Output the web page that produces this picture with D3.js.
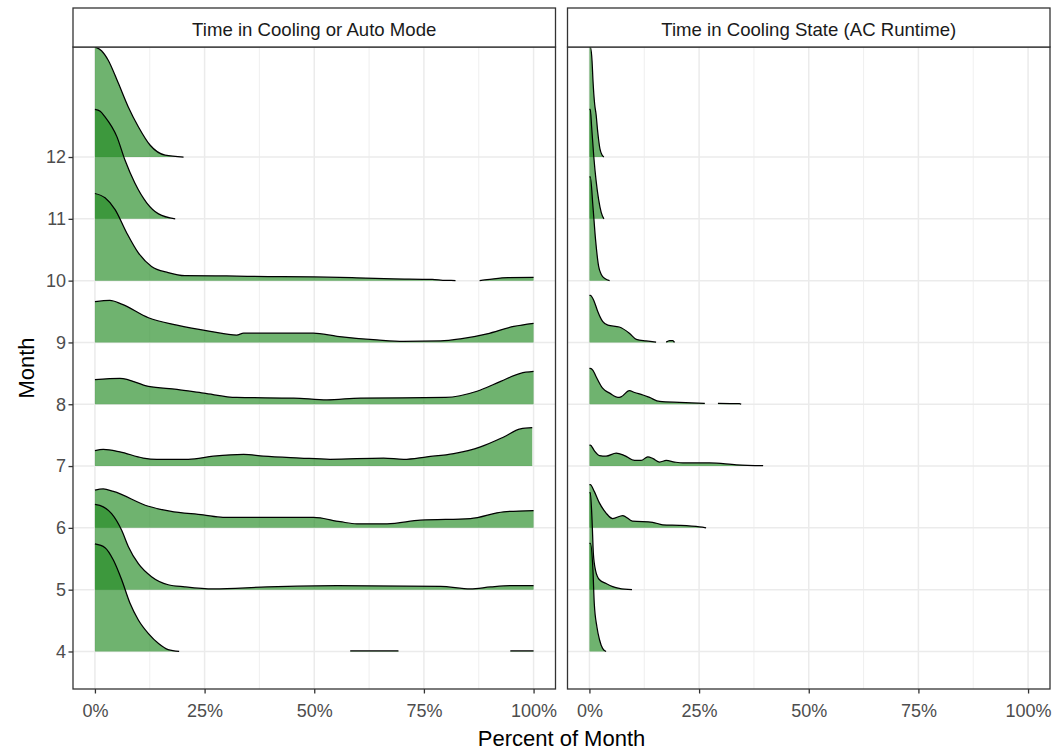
<!DOCTYPE html>
<html><head><meta charset="utf-8">
<script src="https://cdn.jsdelivr.net/npm/d3@7"></script>
<style>body{margin:0;background:#fff;} svg{display:block;font-family:"Liberation Sans",Arial,sans-serif;}</style>
</head><body><svg id="c" width="1055" height="751"></svg>
<script>
// ---------- data ----------
const months = [4, 5, 6, 7, 8, 9, 10, 11, 12];
const facetTitles = ["Time in Cooling or Auto Mode", "Time in Cooling State (AC Runtime)"];
const xTickValues = [0, 0.25, 0.5, 0.75, 1];
const xTickLabels = ["0%", "25%", "50%", "75%", "100%"];
const xMinorValues = [0.125, 0.375, 0.625, 0.875];
const xAxisTitle = "Percent of Month";
const yAxisTitle = "Month";

// [share of month, ridge height in month rows]; null height = gap
const modeCurves = [
  // 4
  [[0,1.74],[0.023,1.68],[0.042,1.48],[0.061,1.16],[0.080,0.78],[0.099,0.51],[0.122,0.29],[0.145,0.13],[0.167,0.03],[0.192,0],[0.3,null],[0.582,0.008],[0.692,0.008],[0.8,null],[0.947,0.008],[1.0,0.008]],
  // 5
  [[0,1.38],[0.019,1.34],[0.038,1.23],[0.061,0.96],[0.076,0.70],[0.099,0.42],[0.129,0.21],[0.167,0.08],[0.205,0.045],[0.270,0.011],[0.392,0.044],[0.552,0.065],[0.788,0.053],[0.856,0.011],[0.902,0.044],[0.947,0.065],[1.0,0.065]],
  // 6
  [[0,0.61],[0.019,0.63],[0.042,0.59],[0.122,0.35],[0.171,0.27],[0.247,0.21],[0.292,0.17],[0.498,0.17],[0.559,0.10],[0.597,0.065],[0.666,0.065],[0.742,0.125],[0.856,0.15],[0.932,0.26],[1.0,0.28]],
  // 7
  [[0,0.25],[0.019,0.27],[0.057,0.23],[0.110,0.13],[0.141,0.11],[0.213,0.11],[0.270,0.16],[0.339,0.19],[0.384,0.16],[0.468,0.13],[0.536,0.11],[0.658,0.13],[0.704,0.11],[0.757,0.15],[0.818,0.20],[0.879,0.31],[0.932,0.47],[0.970,0.60],[0.997,0.62]],
  // 8
  [[0,0.40],[0.057,0.42],[0.122,0.29],[0.187,0.24],[0.248,0.18],[0.323,0.11],[0.453,0.10],[0.529,0.07],[0.605,0.10],[0.80,0.11],[0.871,0.21],[0.925,0.37],[0.970,0.50],[1.0,0.53]],
  // 9
  [[0,0.66],[0.034,0.68],[0.061,0.62],[0.122,0.40],[0.187,0.28],[0.263,0.18],[0.323,0.12],[0.339,0.15],[0.40,0.15],[0.498,0.15],[0.552,0.10],[0.643,0.04],[0.704,0.016],[0.788,0.024],[0.833,0.057],[0.894,0.14],[0.955,0.26],[1.0,0.31]],
  // 10
  [[0,1.41],[0.023,1.34],[0.046,1.15],[0.072,0.78],[0.099,0.45],[0.129,0.23],[0.167,0.13],[0.205,0.08],[0.30,0.075],[0.395,0.065],[0.50,0.06],[0.597,0.045],[0.68,0.03],[0.769,0.02],[0.80,0.003],[0.822,0.002],[0.85,null],[0.877,0.002],[0.894,0.015],[0.942,0.05],[1.0,0.053]],
  // 11
  [[0,1.77],[0.012,1.74],[0.023,1.65],[0.050,1.33],[0.068,0.96],[0.091,0.58],[0.118,0.26],[0.145,0.08],[0.183,0]],
  // 12
  [[0,1.78],[0.015,1.72],[0.030,1.57],[0.053,1.20],[0.076,0.81],[0.099,0.49],[0.126,0.19],[0.160,0.03],[0.202,0]]
];

const runtimeCurves = [
  // 4
  [[0,1.75],[0.002,1.75],[0.008,1.32],[0.011,0.78],[0.017,0.40],[0.023,0.19],[0.030,0.05],[0.038,0]],
  // 5
  [[0,1.57],[0.002,1.57],[0.006,1.12],[0.009,0.58],[0.014,0.31],[0.023,0.16],[0.038,0.10],[0.053,0.05],[0.068,0.02],[0.097,0]],
  // 6
  [[0,0.70],[0.002,0.70],[0.011,0.59],[0.023,0.40],[0.038,0.24],[0.053,0.15],[0.076,0.20],[0.098,0.11],[0.144,0.09],[0.167,0.05],[0.205,0.04],[0.251,0.015],[0.266,0]],
  // 7
  [[0,0.34],[0.002,0.34],[0.011,0.25],[0.023,0.17],[0.038,0.16],[0.061,0.21],[0.080,0.17],[0.103,0.09],[0.118,0.09],[0.133,0.15],[0.145,0.12],[0.160,0.065],[0.175,0.09],[0.194,0.065],[0.213,0.05],[0.274,0.05],[0.335,0.02],[0.396,0.005]],
  // 8
  [[0,0.58],[0.002,0.58],[0.008,0.55],[0.015,0.45],[0.030,0.26],[0.046,0.18],[0.065,0.11],[0.072,0.12],[0.091,0.22],[0.103,0.19],[0.122,0.15],[0.137,0.11],[0.160,0.045],[0.205,0.03],[0.263,0.015],[0.278,null],[0.293,0.015],[0.342,0.01],[0.346,0]],
  // 9
  [[0,0.76],[0.002,0.76],[0.011,0.66],[0.019,0.50],[0.030,0.34],[0.042,0.28],[0.068,0.25],[0.091,0.15],[0.107,0.05],[0.129,0.025],[0.152,0.005],[0.163,null],[0.175,0.005],[0.183,0.03],[0.19,0.03],[0.194,0]],
  // 10
  [[0,1.68],[0.002,1.68],[0.008,1.20],[0.014,0.66],[0.021,0.23],[0.027,0.10],[0.036,0.03],[0.046,0]],
  // 11
  [[0,1.77],[0.002,1.77],[0.005,1.49],[0.010,1.00],[0.015,0.63],[0.021,0.31],[0.027,0.10],[0.033,0]],
  // 12
  [[0,1.78],[0.002,1.78],[0.006,1.55],[0.008,1.25],[0.012,0.85],[0.015,0.70],[0.019,0.40],[0.024,0.13],[0.029,0.03],[0.033,0]]
];

// ---------- layout ----------
const svg = d3.select("#c");
const panelTop = 47, panelBottom = 689, stripTop = 8;
const panelsX = [[73, 555.5], [567.5, 1050]];
const y = d3.scaleLinear().domain([3.393, 13.78]).range([panelBottom, panelTop]);
const fillCol = "rgb(34,139,34)", fillOpacity = 0.65;
const gridCol = "#ebebeb", borderCol = "#333333", tickTextCol = "#4d4d4d";

[modeCurves, runtimeCurves].forEach((curves, pi) => {
  const [x0, x1] = panelsX[pi];
  const x = d3.scaleLinear().domain([-0.05, 1.05]).range([x0, x1]);
  const g = svg.append("g");
  const clipId = "clip" + pi;
  svg.append("defs").append("clipPath").attr("id", clipId)
    .append("rect").attr("x", x0).attr("y", panelTop).attr("width", x1 - x0).attr("height", panelBottom - panelTop);

  // grid
  g.selectAll(".minor").data(xMinorValues).join("line")
    .attr("x1", d => x(d)).attr("x2", d => x(d)).attr("y1", panelTop).attr("y2", panelBottom)
    .attr("stroke", gridCol).attr("stroke-width", 0.8);
  g.selectAll(".majx").data(xTickValues).join("line")
    .attr("x1", d => x(d)).attr("x2", d => x(d)).attr("y1", panelTop).attr("y2", panelBottom)
    .attr("stroke", gridCol).attr("stroke-width", 1.5);
  g.selectAll(".majy").data(months).join("line")
    .attr("x1", x0).attr("x2", x1).attr("y1", d => y(d)).attr("y2", d => y(d))
    .attr("stroke", gridCol).attr("stroke-width", 1.5);

  // ridges (top month first so lower rows overlay)
  const ridges = g.append("g").attr("clip-path", `url(#${clipId})`);
  for (let i = months.length - 1; i >= 0; i--) {
    const m = months[i];
    const pts = curves[i];
    const area = d3.area()
      .defined(d => d[1] !== null)
      .x(d => x(d[0])).y0(y(m)).y1(d => y(m + d[1]))
      .curve(d3.curveMonotoneX);
    const line = d3.line()
      .defined(d => d[1] !== null)
      .x(d => x(d[0])).y(d => y(m + d[1]))
      .curve(d3.curveMonotoneX);
    ridges.append("path").datum(pts).attr("d", area)
      .attr("fill", fillCol).attr("fill-opacity", fillOpacity).attr("stroke", "none");
    ridges.append("path").datum(pts).attr("d", line)
      .attr("fill", "none").attr("stroke", "#000").attr("stroke-width", 1.25);
  }

  // border
  g.append("rect").attr("x", x0).attr("y", panelTop).attr("width", x1 - x0).attr("height", panelBottom - panelTop)
    .attr("fill", "none").attr("stroke", borderCol).attr("stroke-width", 1.3);
  // strip
  g.append("rect").attr("x", x0).attr("y", stripTop).attr("width", x1 - x0).attr("height", panelTop - stripTop)
    .attr("fill", "#fff").attr("stroke", borderCol).attr("stroke-width", 1.3);
  g.append("text").attr("x", (x0 + x1) / 2).attr("y", 36).attr("text-anchor", "middle")
    .attr("font-size", "18.6px").attr("fill", "#1a1a1a").text(facetTitles[pi]);

  // x axis
  const xa = svg.append("g").attr("transform", `translate(0,${panelBottom})`)
    .call(d3.axisBottom(x).tickValues(xTickValues).tickFormat((d, i) => xTickLabels[i]).tickSize(4.5).tickPadding(10.5));
  xa.select(".domain").remove();
  xa.selectAll("line").attr("stroke", borderCol).attr("stroke-width", 1.3);
  xa.selectAll("text").attr("fill", tickTextCol).attr("font-size", "18px").attr("font-family", "Liberation Sans, Arial, sans-serif");

  if (pi === 0) {
    const ya = svg.append("g").attr("transform", `translate(${x0},0)`)
      .call(d3.axisLeft(y).tickValues(months).tickFormat(d3.format("d")).tickSize(4.5).tickPadding(2.5));
    ya.select(".domain").remove();
    ya.selectAll("line").attr("stroke", borderCol).attr("stroke-width", 1.3);
    ya.selectAll("text").attr("fill", tickTextCol).attr("font-size", "18px").attr("font-family", "Liberation Sans, Arial, sans-serif");
  }
});

// axis titles
svg.append("text").attr("x", (73 + 1050) / 2).attr("y", 746).attr("text-anchor", "middle")
  .attr("font-size", "22px").attr("fill", "#000").text(xAxisTitle);
svg.append("text").attr("transform", `translate(34,${(panelTop + panelBottom) / 2}) rotate(-90)`)
  .attr("text-anchor", "middle").attr("font-size", "22px").attr("fill", "#000").text(yAxisTitle);
</script>
</body></html>
